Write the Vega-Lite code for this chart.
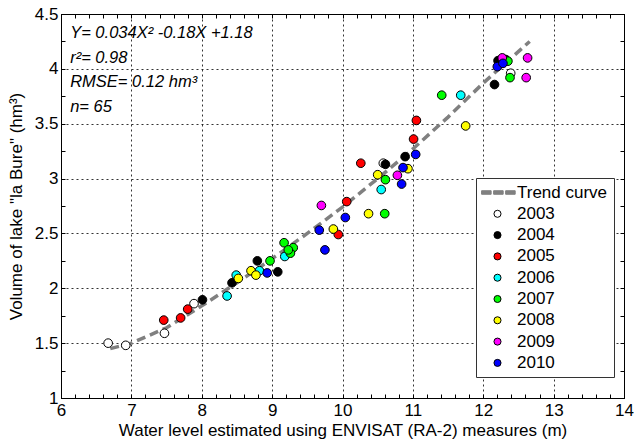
{
  "$schema": "https://vega.github.io/schema/vega-lite/v6.json",
  "width": 563,
  "height": 384,
  "autosize": "none",
  "padding": {"left": 61, "top": 14, "right": 10, "bottom": 43},
  "background": "white",
  "config": {
    "view": {"stroke": "black", "strokeWidth": 1},
    "font": "Liberation Sans",
    "axis": {
      "labelFont": "Liberation Sans",
      "labelFontSize": 17,
      "labelColor": "black",
      "titleFont": "Liberation Sans",
      "titleFontSize": 17,
      "titleFontWeight": "normal",
      "titleColor": "black",
      "domainColor": "black",
      "tickColor": "black",
      "labelOverlap": false,
      "labelBound": false,
      "labelFlush": false
    },
    "legend": {
      "orient": "none",
      "legendX": 415,
      "legendY": 164,
      "padding": 6,
      "rowPadding": 3.3,
      "labelFont": "Liberation Sans",
      "labelFontSize": 17,
      "labelColor": "black",
      "symbolOffset": 7,
      "labelOffset": 11,
      "symbolSize": 50,
      "symbolStrokeWidth": 1,
      "strokeColor": "#333333",
      "fillColor": "white",
      "cornerRadius": 0
    }
  },
  "datasets": {
    "pts": [
      {"x": 6.67, "y": 1.50, "series": "2003"},
      {"x": 6.92, "y": 1.48, "series": "2003"},
      {"x": 7.47, "y": 1.59, "series": "2003"},
      {"x": 7.89, "y": 1.86, "series": "2003"},
      {"x": 10.58, "y": 3.14, "series": "2003"},
      {"x": 12.39, "y": 3.96, "series": "2003"},
      {"x": 8.01, "y": 1.895, "series": "2004"},
      {"x": 8.43, "y": 2.05, "series": "2004"},
      {"x": 8.79, "y": 2.25, "series": "2004"},
      {"x": 9.08, "y": 2.15, "series": "2004"},
      {"x": 10.61, "y": 3.13, "series": "2004"},
      {"x": 10.89, "y": 3.20, "series": "2004"},
      {"x": 12.16, "y": 3.857, "series": "2004"},
      {"x": 12.21, "y": 4.075, "series": "2004"},
      {"x": 12.32, "y": 4.085, "series": "2004"},
      {"x": 7.46, "y": 1.71, "series": "2005"},
      {"x": 7.70, "y": 1.73, "series": "2005"},
      {"x": 7.80, "y": 1.81, "series": "2005"},
      {"x": 9.94, "y": 2.49, "series": "2005"},
      {"x": 10.06, "y": 2.79, "series": "2005"},
      {"x": 10.26, "y": 3.14, "series": "2005"},
      {"x": 11.01, "y": 3.36, "series": "2005"},
      {"x": 11.05, "y": 3.53, "series": "2005"},
      {"x": 8.36, "y": 1.93, "series": "2006"},
      {"x": 8.49, "y": 2.12, "series": "2006"},
      {"x": 8.82, "y": 2.16, "series": "2006"},
      {"x": 9.18, "y": 2.29, "series": "2006"},
      {"x": 10.55, "y": 2.90, "series": "2006"},
      {"x": 11.68, "y": 3.76, "series": "2006"},
      {"x": 8.97, "y": 2.25, "series": "2007"},
      {"x": 9.17, "y": 2.415, "series": "2007"},
      {"x": 9.30, "y": 2.37, "series": "2007"},
      {"x": 9.26, "y": 2.32, "series": "2007"},
      {"x": 9.23, "y": 2.35, "series": "2007"},
      {"x": 10.60, "y": 2.68, "series": "2007"},
      {"x": 10.61, "y": 2.99, "series": "2007"},
      {"x": 11.41, "y": 3.76, "series": "2007"},
      {"x": 12.38, "y": 3.92, "series": "2007"},
      {"x": 12.35, "y": 4.07, "series": "2007"},
      {"x": 8.52, "y": 2.09, "series": "2008"},
      {"x": 8.70, "y": 2.16, "series": "2008"},
      {"x": 8.77, "y": 2.12, "series": "2008"},
      {"x": 9.87, "y": 2.54, "series": "2008"},
      {"x": 10.37, "y": 2.68, "series": "2008"},
      {"x": 10.50, "y": 3.035, "series": "2008"},
      {"x": 10.93, "y": 3.09, "series": "2008"},
      {"x": 11.75, "y": 3.48, "series": "2008"},
      {"x": 9.70, "y": 2.755, "series": "2009"},
      {"x": 10.78, "y": 3.03, "series": "2009"},
      {"x": 12.61, "y": 3.92, "series": "2009"},
      {"x": 12.63, "y": 4.10, "series": "2009"},
      {"x": 12.27, "y": 4.10, "series": "2009"},
      {"x": 8.93, "y": 2.14, "series": "2010"},
      {"x": 9.67, "y": 2.53, "series": "2010"},
      {"x": 9.75, "y": 2.35, "series": "2010"},
      {"x": 10.04, "y": 2.645, "series": "2010"},
      {"x": 10.84, "y": 2.95, "series": "2010"},
      {"x": 10.86, "y": 3.10, "series": "2010"},
      {"x": 11.04, "y": 3.22, "series": "2010"},
      {"x": 12.20, "y": 4.02, "series": "2010"},
      {"x": 12.28, "y": 4.05, "series": "2010"}
    ],
    "trend": [
      {"x": 6.70, "y": 1.45},
      {"x": 7.0, "y": 1.50},
      {"x": 7.5, "y": 1.64},
      {"x": 8.0, "y": 1.84},
      {"x": 8.5, "y": 2.05},
      {"x": 9.0, "y": 2.27},
      {"x": 9.5, "y": 2.50},
      {"x": 10.0, "y": 2.74},
      {"x": 10.5, "y": 3.00},
      {"x": 11.0, "y": 3.27},
      {"x": 11.5, "y": 3.56},
      {"x": 12.0, "y": 3.87},
      {"x": 12.66, "y": 4.25}
    ],
    "notes": [
      {"x": 6.13, "y": 4.33, "label": "Y= 0.034X² -0.18X +1.18"},
      {"x": 6.13, "y": 4.10, "label": "r²= 0.98"},
      {"x": 6.13, "y": 3.88, "label": "RMSE= 0.12 hm³"},
      {"x": 6.13, "y": 3.65, "label": "n= 65"}
    ]
  },
  "resolve": {"axis": {"x": "independent", "y": "independent"}},
  "layer": [
    {
      "data": {"name": "trend"},
      "mark": {"type": "line", "color": "#808080", "strokeWidth": 3.5, "strokeDash": [9, 5], "clip": true},
      "encoding": {
        "x": {"field": "x", "type": "quantitative", "scale": {"domain": [6, 14], "nice": false, "zero": false},
          "axis": {
            "orient": "bottom",
            "values": [6,6.2,6.4,6.6,6.8,7,7.2,7.4,7.6,7.8,8,8.2,8.4,8.6,8.8,9,9.2,9.4,9.6,9.8,10,10.2,10.4,10.6,10.8,11,11.2,11.4,11.6,11.8,12,12.2,12.4,12.6,12.8,13,13.2,13.4,13.6,13.8,14],
            "labelExpr": "datum.value % 1 === 0 ? '' + datum.value : ''",
            "title": "Water level estimated using ENVISAT (RA-2) measures (m)",
            "tickSize": -4,
            "labelPadding": 8,
            "titlePadding": 4,
            "grid": true,
            "gridColor": "black",
            "gridDash": [2, 3],
            "gridOpacity": {"condition": {"test": "datum.value % 1 === 0", "value": 0.8}, "value": 0}
          }},
        "y": {"field": "y", "type": "quantitative", "scale": {"domain": [1, 4.5], "nice": false, "zero": false},
          "axis": {
            "orient": "left",
            "values": [1,1.25,1.5,1.75,2,2.25,2.5,2.75,3,3.25,3.5,3.75,4,4.25,4.5],
            "labelExpr": "datum.value % 0.5 === 0 ? '' + datum.value : ''",
            "title": "Volume of lake \"la Bure\" (hm³)",
            "tickSize": -4,
            "labelPadding": 7,
            "titlePadding": 9,
            "grid": true,
            "gridColor": "black",
            "gridDash": [2, 3],
            "gridOpacity": {"condition": {"test": "datum.value % 0.5 === 0", "value": 0.8}, "value": 0}
          }}
      }
    },
    {
      "data": {"name": "pts"},
      "mark": {"type": "point", "filled": true, "size": 75, "strokeWidth": 1, "opacity": 1, "fillOpacity": 1, "strokeOpacity": 1},
      "encoding": {
        "x": {"field": "x", "type": "quantitative", "axis": null},
        "y": {"field": "y", "type": "quantitative", "axis": null},
        "fill": {"field": "series", "type": "nominal",
          "scale": {"domain": ["Trend curve", "2003", "2004", "2005", "2006", "2007", "2008", "2009", "2010"],
            "range": ["#808080", "#ffffff", "#000000", "#ff0000", "#00ffff", "#00ff00", "#ffff00", "#ff00ff", "#0000ff"]},
          "legend": {"title": null}},
        "stroke": {"field": "series", "type": "nominal",
          "scale": {"domain": ["Trend curve", "2003", "2004", "2005", "2006", "2007", "2008", "2009", "2010"],
            "range": ["#808080", "#000000", "#000000", "#000000", "#000000", "#000000", "#000000", "#000000", "#000000"]},
          "legend": {"title": null}},
        "shape": {"field": "series", "type": "nominal",
          "scale": {"domain": ["Trend curve", "2003", "2004", "2005", "2006", "2007", "2008", "2009", "2010"],
            "range": ["M-4.5,-0.5H-1.8V0.5H-4.5Z M-1.1,-0.5H1.6V0.5H-1.1Z M2.3,-0.5H5V0.5H2.3Z", "circle", "circle", "circle", "circle", "circle", "circle", "circle", "circle"]},
          "legend": {"title": null}}
      }
    },
    {
      "data": {"name": "notes"},
      "mark": {"type": "text", "align": "left", "baseline": "middle", "fontSize": 16.5, "fontStyle": "italic", "font": "Liberation Sans", "color": "black"},
      "encoding": {
        "x": {"field": "x", "type": "quantitative",
          "axis": {
            "orient": "top",
            "values": [6,6.2,6.4,6.6,6.8,7,7.2,7.4,7.6,7.8,8,8.2,8.4,8.6,8.8,9,9.2,9.4,9.6,9.8,10,10.2,10.4,10.6,10.8,11,11.2,11.4,11.6,11.8,12,12.2,12.4,12.6,12.8,13,13.2,13.4,13.6,13.8,14],
            "labels": false, "title": null, "grid": false, "tickSize": -4
          }},
        "y": {"field": "y", "type": "quantitative",
          "axis": {
            "orient": "right",
            "values": [1,1.25,1.5,1.75,2,2.25,2.5,2.75,3,3.25,3.5,3.75,4,4.25,4.5],
            "labels": false, "title": null, "grid": false, "tickSize": -4
          }},
        "text": {"field": "label"}
      }
    }
  ]
}
